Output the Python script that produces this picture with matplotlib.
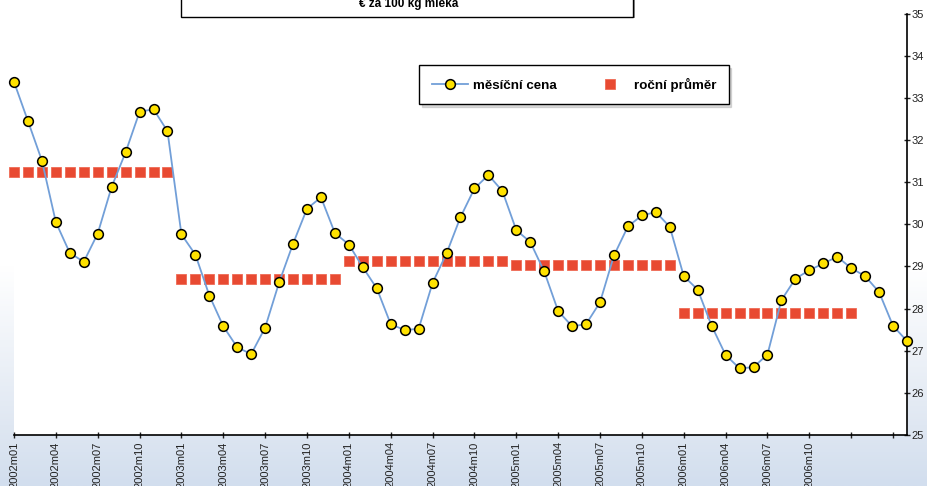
import numpy as np
import matplotlib
matplotlib.use("Agg")
import matplotlib.pyplot as plt
from matplotlib.patches import Rectangle
from matplotlib.colors import LinearSegmentedColormap

plt.rcParams['font.family'] = ['Liberation Sans', 'DejaVu Sans']

# monthly milk price, EUR per 100 kg, 2002m01 .. 2007m05
monthly_price = [33.38, 32.45, 31.51, 30.05, 29.32, 29.11, 29.78, 30.89, 31.71, 32.67, 32.73, 32.21,
                 29.76, 29.28, 28.31, 27.58, 27.08, 26.92, 27.55, 28.62, 29.54, 30.37, 30.64, 29.79,
                 29.52, 28.98, 28.48, 27.63, 27.49, 27.52, 28.61, 29.31, 30.17, 30.85, 31.17, 30.79,
                 29.86, 29.58, 28.88, 27.94, 27.58, 27.63, 28.15, 29.26, 29.95, 30.21, 30.29, 29.94,
                 28.77, 28.45, 27.59, 26.90, 26.58, 26.61, 26.91, 28.20, 28.71, 28.91, 29.07, 29.23,
                 28.96, 28.77, 28.39, 27.59, 27.23]
years = [2002, 2003, 2004, 2005, 2006, 2007]
annual_avg = [31.24, 28.71, 29.13, 29.04, 27.90]
annual_span = [12, 12, 12, 12, 13]   # months each average is drawn over
last_label = "2006m10"

months = [f"{y}m{m:02d}" for y in years for m in range(1, 13)][:len(monthly_price)]
x = np.arange(len(monthly_price))

avg_series = np.full(len(monthly_price), np.nan)
pos = 0
for v, n in zip(annual_avg, annual_span):
    avg_series[pos:pos + n] = v
    pos += n

fig = plt.figure(figsize=(9.28, 4.86), dpi=100)

# soft backdrop behind the plot area
bg = fig.add_axes([0, 0, 1, 1])
bg.set_zorder(-1)
grad = np.linspace(0, 1, 200).reshape(-1, 1)
cmap = LinearSegmentedColormap.from_list(
    "bg", [(0, "white"), (0.55, "white"), (0.88, "#dfe7f2"), (1, "#d2deee")])
bg.imshow(grad, aspect="auto", cmap=cmap, extent=[0, 1, 0, 1])
bg.axis("off")

ax = fig.add_axes([14 / 928, 1 - 435 / 486, (907 - 14) / 928, (435 - 13.6) / 486])
ax.set_facecolor("white")

ax.plot(x, monthly_price, color="#729fd8", lw=1.3, marker="o", ms=7,
        mfc="#ffe200", mec="black", mew=1.1, clip_on=False, zorder=3,
        label="měsíční cena")
ax.plot(x, avg_series, ls="none", marker="s", ms=7.6, mfc="#e84a32",
        mec="#ef6a55", mew=0.6, clip_on=False, zorder=2, label="roční průměr")

ax.set_xlim(0, len(monthly_price) - 1)
ax.set_ylim(25, 35)
ax.set_yticks(range(25, 36))
ax.yaxis.tick_right()
ticks = x[::3]
ax.set_xticks(ticks)
stop = months.index(last_label)
ax.set_xticklabels([months[i] if i <= stop else "" for i in ticks], rotation=90)

for s in ["top", "left"]:
    ax.spines[s].set_visible(False)
for s in ["bottom", "right"]:
    ax.spines[s].set_linewidth(1.2)
ax.tick_params(axis="x", direction="inout", length=5, width=1, labelsize=8,
               pad=2, colors="#222222")
ax.tick_params(axis="y", direction="inout", length=5, width=1, labelsize=8,
               pad=1, colors="#222222")

leg = ax.legend(loc="upper left", bbox_to_anchor=(419 / 928, 1 - 65 / 486),
                bbox_transform=fig.transFigure, ncol=2, frameon=True,
                fancybox=False, edgecolor="black", borderpad=0.95,
                borderaxespad=0, handlelength=2.7, handletextpad=0.38,
                columnspacing=2.7, prop={"weight": "bold", "size": 9.6},
                shadow={"color": "0.6", "alpha": 0.35})
leg.get_frame().set_linewidth(1.0)

# title box, partly above the top edge
fig.patches.append(Rectangle((183 / 928, 1 - 18 / 486), 452 / 928, 0.2,
                             transform=fig.transFigure, facecolor="0.6",
                             edgecolor="none", zorder=1))
fig.patches.append(Rectangle((181 / 928, 1 - 17 / 486), 452 / 928, 0.2,
                             transform=fig.transFigure, facecolor="white",
                             edgecolor="black", lw=1, zorder=2))
fig.text(409 / 928, 1 - 7.5 / 486, "€ za 100 kg mléka", ha="center",
         va="baseline", fontsize=8.5, fontweight="bold")

fig.savefig("out.png", dpi=100)
